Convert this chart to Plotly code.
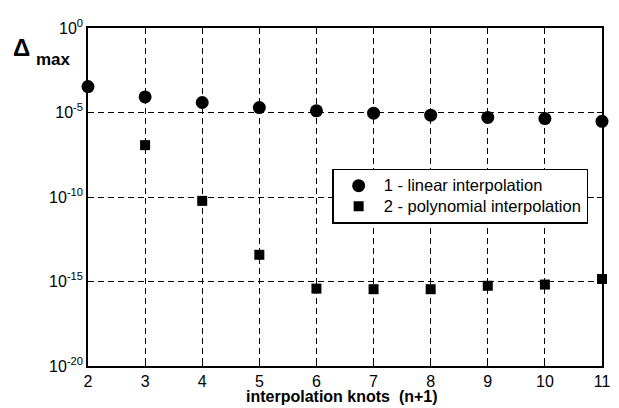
import plotly.graph_objects as go

knots_linear = [2, 3, 4, 5, 6, 7, 8, 9, 10, 11]
delta_linear = [3.4e-4, 8.3e-5, 3.9e-5, 1.95e-5, 1.26e-5, 9.1e-6, 6.9e-6, 5.1e-6, 4.4e-6, 3.0e-6]

knots_poly = [3, 4, 5, 6, 7, 8, 9, 10, 11]
delta_poly = [1.17e-7, 5.9e-11, 3.8e-14, 3.8e-16, 3.5e-16, 3.5e-16, 5.6e-16, 6.6e-16, 1.4e-15]

x_ticks = [2, 3, 4, 5, 6, 7, 8, 9, 10, 11]
y_ticks = [1e-20, 1e-15, 1e-10, 1e-5, 1e0]
y_ticktext = ["10<sup>-20</sup>", "10<sup>-15</sup>", "10<sup>-10</sup>", "10<sup>-5</sup>", "10<sup>0</sup>"]

series_names = ["1 - linear interpolation", "2 - polynomial interpolation"]

FONT = "Arial, Liberation Sans, Helvetica, sans-serif"

fig = go.Figure()
fig.add_trace(go.Scatter(
    x=knots_linear, y=delta_linear, mode="markers",
    name="<span style='font-size:16.5px'>" + series_names[0] + "</span>",
    marker=dict(symbol="circle", size=13, color="black", line=dict(width=0)),
    cliponaxis=False,
))
fig.add_trace(go.Scatter(
    x=knots_poly, y=delta_poly, mode="markers",
    name="<span style='font-size:16.5px'>" + series_names[1] + "</span>",
    marker=dict(symbol="square", size=10, color="black", line=dict(width=0)),
    cliponaxis=False,
))

# the page body has an 8px default margin, so the figure is sized to end
# exactly at the 619x408 window edge
fig.update_layout(
    width=611, height=400,
    margin=dict(l=80, r=9, t=17, b=42),
    paper_bgcolor="white", plot_bgcolor="white",
    font=dict(family=FONT, size=16, color="black"),
    showlegend=True,
    legend=dict(
        x=0.475, y=0.583, xanchor="left", yanchor="top",
        bgcolor="white", bordercolor="black", borderwidth=1.5,
        font=dict(family=FONT, size=13.5, color="black"),
        itemwidth=40, tracegroupgap=0,
    ),
)

fig.update_xaxes(
    range=[2, 11], tickvals=x_ticks, ticktext=[str(v) for v in x_ticks],
    showline=True, linecolor="black", linewidth=1.5, mirror="ticks",
    ticks="inside", ticklen=5, tickcolor="black",
    showgrid=True, gridcolor="black", gridwidth=1, griddash="6px,4px",
    zeroline=False, ticklabeloverflow="allow",
    tickfont=dict(family=FONT, size=16, color="black"),
)
fig.update_yaxes(
    type="log", range=[-20, 0], tickvals=y_ticks, ticktext=y_ticktext,
    showline=True, linecolor="black", linewidth=1.5, mirror="ticks",
    ticks="inside", ticklen=5, tickcolor="black",
    showgrid=True, gridcolor="black", gridwidth=1, griddash="6px,4px",
    zeroline=False, ticklabeloverflow="allow",
    tickfont=dict(family=FONT, size=16, color="black"),
)

# axis titles
fig.add_annotation(
    xref="paper", yref="paper", x=-0.1494, y=0.9413, xanchor="left", yanchor="middle",
    text="<b>Δ</b>", showarrow=False,
    font=dict(family=FONT, size=24, color="black"),
)
fig.add_annotation(
    xref="paper", yref="paper", x=-0.1054, y=0.906, xanchor="left", yanchor="middle",
    text="<b>max</b>", showarrow=False,
    font=dict(family=FONT, size=17, color="black"),
)
fig.add_annotation(
    xref="paper", yref="paper", x=0.495, y=-0.0909, xanchor="center", yanchor="middle",
    text="<b>interpolation knots  (n+1)</b>", showarrow=False,
    font=dict(family=FONT, size=16, color="black"),
)

fig.write_html("out.html")
